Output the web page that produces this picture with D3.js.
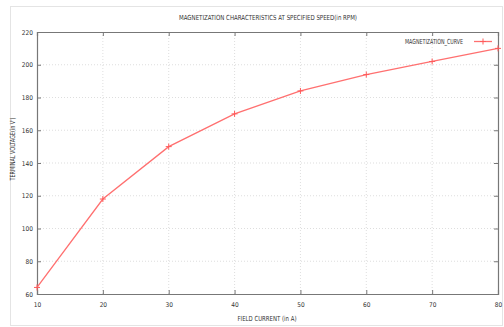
<!DOCTYPE html>
<html>
<head>
<meta charset="utf-8">
<script src="https://cdn.jsdelivr.net/npm/d3@7"></script>
<style>
  body { margin: 0; background: #fff; }
  svg text { font-family: "DejaVu Sans Condensed", "DejaVu Sans", sans-serif; fill: #333; }
</style>
</head>
<body>
<svg id="svg"></svg>
<script>
const fieldCurrent = [10, 20, 30, 40, 50, 60, 70, 80];
const terminalVoltage = [64, 118, 150, 170, 184, 194, 202, 210];
const xTicks = [10, 20, 30, 40, 50, 60, 70, 80];
const yTicks = [60, 80, 100, 120, 140, 160, 180, 200, 220];

const width = 504, height = 327;
const pad = {top: 32, right: 6, bottom: 33, left: 37};

const svg = d3.select('#svg').attr('width', width).attr('height', height);

// faint frame around the whole picture
svg.append('rect')
  .attr('x', 10.5).attr('y', 6.5)
  .attr('width', width - 12).attr('height', height - 8)
  .attr('fill', 'none').attr('stroke', '#e4e4e4');

const x = d3.scaleLinear().domain([10, 80]).range([pad.left, width - pad.right]);
const y = d3.scaleLinear().domain([60, 220]).range([height - pad.bottom, pad.top]);

// grid
const g = svg.append('g');
g.selectAll('.gx').data(xTicks.slice(1, -1)).enter().append('line')
  .attr('x1', d => x(d)).attr('x2', d => x(d))
  .attr('y1', y(220)).attr('y2', y(60))
  .attr('stroke', '#c8c8c8').attr('stroke-width', 0.6).attr('stroke-dasharray', '1,2');
g.selectAll('.gy').data(yTicks.slice(1, -1)).enter().append('line')
  .attr('x1', x(10)).attr('x2', x(80))
  .attr('y1', d => y(d)).attr('y2', d => y(d))
  .attr('stroke', '#c8c8c8').attr('stroke-width', 0.6).attr('stroke-dasharray', '1,2');

// axes
const xAxis = svg.append('g')
  .attr('transform', `translate(0,${y(60)})`)
  .call(d3.axisBottom(x).tickValues(xTicks).tickSize(-4).tickPadding(8));
const yAxis = svg.append('g')
  .attr('transform', `translate(${x(10)},0)`)
  .call(d3.axisLeft(y).tickValues(yTicks).tickSize(-4).tickPadding(4));
const xTop = svg.append('g')
  .attr('transform', `translate(0,${y(220)})`)
  .call(d3.axisTop(x).tickValues(xTicks).tickSize(-4).tickFormat(''));
const yRight = svg.append('g')
  .attr('transform', `translate(${x(80)},0)`)
  .call(d3.axisRight(y).tickValues(yTicks).tickSize(-4).tickFormat(''));

[xAxis, yAxis, xTop, yRight].forEach(a => {
  a.select('.domain').attr('stroke', '#777').attr('stroke-width', 1.2);
  a.selectAll('.tick line').attr('stroke', '#777');
  a.selectAll('.tick text').style('font-size', '6.5px').attr('fill', '#444');
});

// curve
const line = d3.line().x(d => x(d[0])).y(d => y(d[1]));
const pts = fieldCurrent.map((d, i) => [d, terminalVoltage[i]]);
svg.append('path').datum(pts)
  .attr('d', line)
  .attr('fill', 'none').attr('stroke', '#ff7070').attr('stroke-width', 1.3);

svg.selectAll('.pt').data(pts).enter().append('path')
  .attr('d', d => `M${x(d[0]) - 3},${y(d[1])}h6M${x(d[0])},${y(d[1]) - 3}v6`)
  .attr('stroke', '#ff5a5a').attr('stroke-width', 1);

// title & labels
const label = (txt, len) => svg.append('text')
  .attr('text-anchor', 'middle')
  .attr('textLength', len).attr('lengthAdjust', 'spacingAndGlyphs')
  .style('font-size', '7px').text(txt);

label('MAGNETIZATION CHARACTERISTICS AT SPECIFIED SPEED(in RPM)', 178)
  .attr('x', 268).attr('y', 20);
label('FIELD CURRENT (in A)', 59)
  .attr('x', 267).attr('y', 321);
label("TERMINAL VOLTAGE(in V')", 63)
  .attr('transform', 'translate(15,149) rotate(-90)');

// legend
svg.append('text').attr('x', 463).attr('y', 44).attr('text-anchor', 'end')
  .attr('textLength', 58).attr('lengthAdjust', 'spacingAndGlyphs')
  .style('font-size', '7px').text('MAGNETIZATION_CURVE');
svg.append('path').attr('d', 'M474,41.5h18').attr('stroke', '#ff7070').attr('stroke-width', 1.3);
svg.append('path').attr('d', 'M483,38.5v6M480,41.5h6').attr('stroke', '#ff5a5a').attr('stroke-width', 1);
</script>
</body>
</html>
